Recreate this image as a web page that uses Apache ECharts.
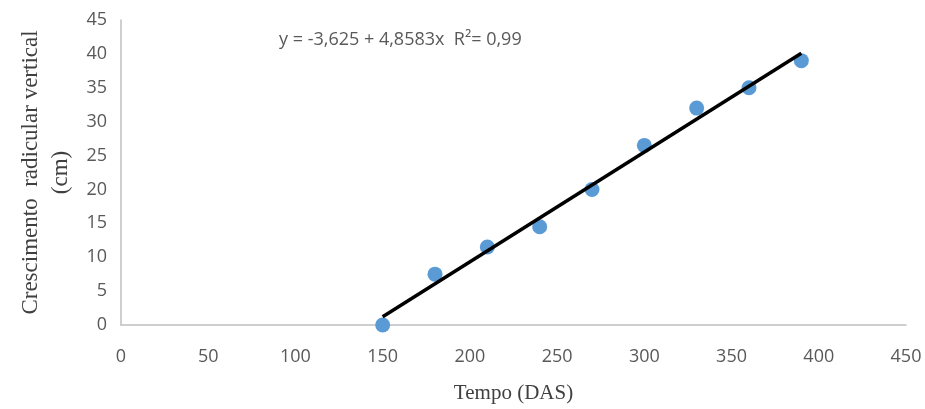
<!DOCTYPE html>
<html>
<head>
<meta charset="utf-8">
<script src="https://cdn.jsdelivr.net/npm/echarts@6/dist/echarts.min.js"></script>
<style>
  html, body { margin: 0; padding: 0; background: #fff; }
  #chart { width: 925px; height: 409px; }
</style>
</head>
<body>
<div id="chart"></div>
<script>
// observed points (Tempo DAS, crescimento cm)
const tempo = [150, 180, 210, 240, 270, 300, 330, 360, 390];
const crescimento = [0, 7.5, 11.5, 14.5, 20, 26.5, 32, 35, 39];

// linear trend line endpoints
const trendX = [150, 390];
const trendY = [1.23, 40.1];

const equation = "y = -3,625 + 4,8583x  R²= 0,99";

const tickFont = { color: "#595959", fontSize: 18, fontFamily: "Open Sans" };
const titleFont = { color: "#404040", fontSize: 22, fontFamily: "Liberation Serif" };

const chart = echarts.init(document.getElementById("chart"));

chart.setOption({
	animation: false,
	grid: { left: 121, right: 19, top: 20, bottom: 80 },
	xAxis: {
		type: "value", min: 0, max: 450, interval: 50,
		axisLine: { lineStyle: { color: "#bfbfbf", width: 1.5 } },
		axisTick: { show: false },
		splitLine: { show: false },
		axisLabel: { ...tickFont, margin: 23 },
		name: "Tempo (DAS)",
		nameLocation: "middle",
		nameGap: 58,
		nameTextStyle: { ...titleFont, fontSize: 21 },
	},
	yAxis: {
		type: "value", min: 0, max: 45, interval: 5,
		axisLine: { show: true, lineStyle: { color: "#bfbfbf", width: 1.5 } },
		axisTick: { show: false },
		splitLine: { show: false },
		axisLabel: { ...tickFont, margin: 14 },
		name: "Crescimento  radicular vertical\n(cm)",
		nameLocation: "middle",
		nameRotate: 90,
		nameGap: 45,
		nameTextStyle: { ...titleFont, fontSize: 23, lineHeight: 30 },
	},
	series: [
		{
			type: "scatter",
			data: tempo.map((t, i) => [t, crescimento[i]]),
			symbolSize: 15,
			itemStyle: { color: "#5b9bd5", opacity: 1 },
			z: 2,
		},
		{
			type: "line",
			data: trendX.map((t, i) => [t, trendY[i]]),
			showSymbol: false,
			lineStyle: { color: "#000", width: 3.5 },
			z: 3,
		},
	],
	graphic: [{
		type: "text",
		left: 279,
		top: 31,
		style: { text: equation, fill: "#595959", font: "18px 'Open Sans'" },
	}],
});
</script>
</body>
</html>
